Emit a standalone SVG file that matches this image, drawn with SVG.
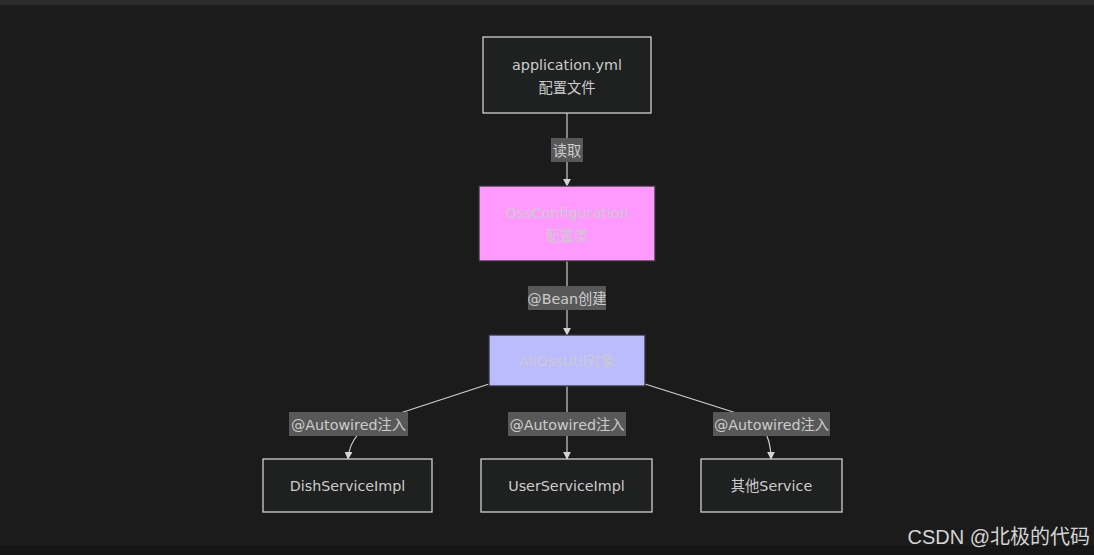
<svg xmlns="http://www.w3.org/2000/svg" width="1094" height="555" viewBox="0 0 1094 555">
<defs>
<marker id="arr" viewBox="0 0 10 10" refX="9" refY="5" markerWidth="8" markerHeight="8" markerUnits="userSpaceOnUse" orient="auto">
<path d="M0,0 L10,5 L0,10 z" fill="#d3d3d3"/>
</marker>
<style>
.node rect{stroke-width:1.3}
.dark rect{fill:#1f2020;stroke:#cfcfcf}
.t{font-family:"DejaVu Sans","Noto Sans CJK SC",sans-serif;font-size:14.3px;fill:#cccccc;text-anchor:middle}
.edge{fill:none;stroke:#cfcfcf;stroke-width:1.2}
.lbl{fill:#585858}
</style>
</defs>
<rect width="1094" height="555" fill="#1b1b1b"/>
<rect width="1094" height="5" fill="#2c2c2e"/>
<rect y="545" width="1094" height="10" fill="#161616"/>

<g id="connectors">
<path class="edge" d="M567,113 L567,186" marker-end="url(#arr)"/>
<path class="edge" d="M567,261 L567,335" marker-end="url(#arr)"/>
<path class="edge" d="M489,384 L385,418 Q350,430 348,459" marker-end="url(#arr)"/>
<path class="edge" d="M567,386 L567,459" marker-end="url(#arr)"/>
<path class="edge" d="M645,384 L752,418 Q771,430 771,459" marker-end="url(#arr)"/>
<rect class="lbl" x="551" y="138" width="32" height="24"/>
<text class="t" x="567" y="155.5">读取</text>
<rect class="lbl" x="528" y="286" width="78" height="24"/>
<text class="t" x="567" y="303.5">@Bean创建</text>
<rect class="lbl" x="289" y="412" width="119" height="24"/>
<text class="t" x="348.5" y="429.5">@Autowired注入</text>
<rect class="lbl" x="508" y="412" width="118" height="24"/>
<text class="t" x="567" y="429.5">@Autowired注入</text>
<rect class="lbl" x="713" y="412" width="117" height="24"/>
<text class="t" x="771.5" y="429.5">@Autowired注入</text>
</g>

<g id="app" class="node dark">
<rect x="483" y="37" width="168" height="76"/>
<text class="t" x="567" y="70">application.yml</text>
<text class="t" x="567" y="93">配置文件</text>
</g>
<g id="oss" class="node">
<rect x="479" y="186" width="176" height="75" fill="#ff99ff" stroke="#333333" stroke-width="2"/>
<text class="t" x="567" y="218">OssConfiguration</text>
<text class="t" x="567" y="241">配置类</text>
</g>
<g id="ali" class="node">
<rect x="489" y="335" width="156" height="51" fill="#bbbbff" stroke="#333333" stroke-width="2"/>
<text class="t" x="567" y="366">AliOssUtil对象</text>
</g>
<g id="dish" class="node dark">
<rect x="263" y="459" width="169" height="53"/>
<text class="t" x="347.5" y="491">DishServiceImpl</text>
</g>
<g id="user" class="node dark">
<rect x="481" y="459" width="171" height="53"/>
<text class="t" x="566.5" y="491">UserServiceImpl</text>
</g>
<g id="other" class="node dark">
<rect x="701" y="459" width="141" height="53"/>
<text class="t" x="771.5" y="491">其他Service</text>
</g>
<text x="1090" y="544" font-family="Liberation Sans,'Noto Sans CJK SC',sans-serif" font-size="20" fill="#d4d4d4" text-anchor="end">CSDN @北极的代码</text>
</svg>
